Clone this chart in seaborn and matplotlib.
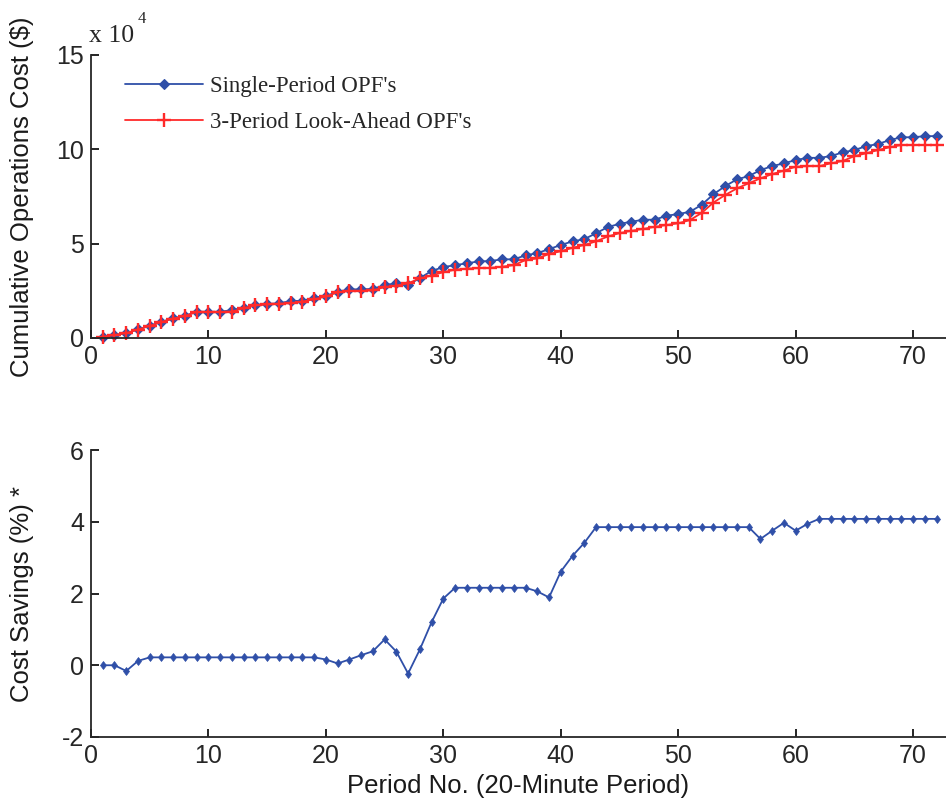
import numpy as np
import pandas as pd
import matplotlib
matplotlib.use("Agg")
import matplotlib.pyplot as plt
import seaborn as sns

periods = list(range(1, 73))

single_period = [0.07, 0.16, 0.25, 0.46, 0.65, 0.86, 1.04, 1.18, 1.39, 1.39,
                 1.39, 1.48, 1.61, 1.75, 1.80, 1.84, 1.96, 1.97, 2.14, 2.23,
                 2.45, 2.58, 2.58, 2.60, 2.81, 2.90, 2.81, 3.18, 3.55, 3.76,
                 3.86, 3.96, 4.06, 4.08, 4.17, 4.17, 4.38, 4.50, 4.71, 4.93,
                 5.12, 5.24, 5.55, 5.88, 6.05, 6.16, 6.27, 6.27, 6.48, 6.57,
                 6.69, 7.06, 7.62, 8.05, 8.41, 8.58, 8.90, 9.11, 9.26, 9.43,
                 9.55, 9.55, 9.64, 9.84, 9.96, 10.17, 10.28, 10.49, 10.64, 10.64,
                 10.70, 10.70]

look_ahead = [0.07, 0.16, 0.26, 0.45, 0.64, 0.85, 1.03, 1.17, 1.38, 1.38,
              1.38, 1.40, 1.58, 1.73, 1.78, 1.82, 1.84, 1.93, 2.05, 2.20,
              2.42, 2.49, 2.50, 2.52, 2.70, 2.78, 2.90, 3.16, 3.31, 3.49,
              3.62, 3.68, 3.70, 3.72, 3.78, 3.86, 4.13, 4.22, 4.45, 4.60,
              4.78, 4.93, 5.12, 5.38, 5.56, 5.68, 5.78, 5.89, 5.99, 6.08,
              6.25, 6.63, 7.18, 7.58, 7.93, 8.20, 8.46, 8.69, 8.87, 9.08,
              9.11, 9.11, 9.26, 9.38, 9.64, 9.79, 9.96, 10.11, 10.23, 10.23,
              10.23, 10.23]

savings = [0.00, 0.00, -0.16, 0.12, 0.22, 0.22, 0.22, 0.22, 0.22, 0.22,
           0.22, 0.22, 0.22, 0.22, 0.22, 0.22, 0.22, 0.22, 0.22, 0.16,
           0.05, 0.16, 0.28, 0.39, 0.72, 0.38, -0.23, 0.44, 1.20, 1.86,
           2.16, 2.16, 2.16, 2.16, 2.16, 2.16, 2.16, 2.06, 1.89, 2.61,
           3.05, 3.41, 3.85, 3.85, 3.85, 3.85, 3.85, 3.85, 3.85, 3.85,
           3.85, 3.85, 3.85, 3.85, 3.85, 3.85, 3.52, 3.75, 3.97, 3.75,
           3.94, 4.08, 4.08, 4.08, 4.08, 4.08, 4.08, 4.08, 4.08, 4.08,
           4.08, 4.08]

series_names = ["Single-Period OPF's", "3-Period Look-Ahead OPF's"]
top_yticks = [0, 5, 10, 15]
bot_yticks = [-2, 0, 2, 4, 6]
xticks = [0, 10, 20, 30, 40, 50, 60, 70]

sns.set_style("ticks")
plt.rcParams["font.family"] = ["Liberation Serif", "DejaVu Serif"]
plt.rcParams["xtick.direction"] = "in"
plt.rcParams["ytick.direction"] = "in"

BLUE = "#2f4fa8"
RED = "#ff2a2a"

W, H = 946, 808
fig = plt.figure(figsize=(W / 100, H / 100), dpi=100)
ax1 = fig.add_axes([91 / W, 1 - 338 / H, (946 - 91) / W, (338 - 55) / H])
ax2 = fig.add_axes([91 / W, 1 - 737 / H, (946 - 91) / W, (737 - 450) / H])

df_single = pd.DataFrame({"period": periods, "cost": single_period})
df_look = pd.DataFrame({"period": periods, "cost": look_ahead})

sns.lineplot(data=df_single, x="period", y="cost", color=BLUE, marker="D",
             markersize=5.5, markeredgewidth=0.8, markeredgecolor=BLUE,
             linewidth=1.3, ax=ax1, label=series_names[0], clip_on=False)
sns.lineplot(data=df_look, x="period", y="cost", color=RED, marker="+",
             markersize=10, markeredgewidth=1.7, markeredgecolor=RED,
             linewidth=1.3, ax=ax1, label=series_names[1], clip_on=False)

df_bot = pd.DataFrame({"period": periods, "savings": savings})
sns.lineplot(data=df_bot, x="period", y="savings", color=BLUE, marker="d",
             markersize=4.5, linewidth=1.3, markeredgewidth=0.5,
             markeredgecolor=BLUE, ax=ax2, clip_on=False)

tick_font = dict(family=["Liberation Sans Narrow", "Liberation Sans"], size=18)
label_font = dict(family=["Liberation Sans"], size=18.5, color="#1a1a1a")

for ax in (ax1, ax2):
    ax.set_xlim(0, 72.8)
    ax.set_xticks(xticks)
    ax.set_xticklabels([str(t) for t in xticks], **tick_font)
    for s in ("top", "right"):
        ax.spines[s].set_visible(False)
    ax.spines["left"].set_linewidth(1.3)
    ax.spines["bottom"].set_linewidth(1.3)
    ax.tick_params(axis="both", length=6, width=1.2, color="black", pad=5)
    ax.set_xlabel("")

ax1.set_ylim(0, 15)
ax1.set_yticks(top_yticks)
ax1.set_yticklabels([str(t) for t in top_yticks], **tick_font)
ax1.set_ylabel("Cumulative Operations Cost ($)", **label_font)

ax2.set_ylim(-2, 6)
ax2.set_yticks(bot_yticks)
ax2.set_yticklabels([str(t) for t in bot_yticks], **tick_font)
ax2.set_ylabel("Cost Savings (%) *", **label_font)
ax2.set_xlabel("Period No. (20-Minute Period)", labelpad=4, **label_font)

ax1.yaxis.set_label_coords(-0.067, 0.5)
ax2.yaxis.set_label_coords(-0.067, 0.5)

# exponent text
fig.text(89 / W, 1 - 42 / H, "x 10", family=["Liberation Serif"], size=18.5,
         ha="left", va="baseline")
fig.text(138 / W, 1 - 23 / H, "4", family=["Liberation Serif"], size=12,
         ha="left", va="baseline")

leg = ax1.legend(loc="upper left", bbox_to_anchor=(0.029, 0.957), frameon=False,
                 prop=dict(family="Liberation Serif", size=16.5),
                 handlelength=3.4, handletextpad=0.3, labelspacing=0.62,
                 borderaxespad=0.0)

fig.savefig("out.png", dpi=100)
